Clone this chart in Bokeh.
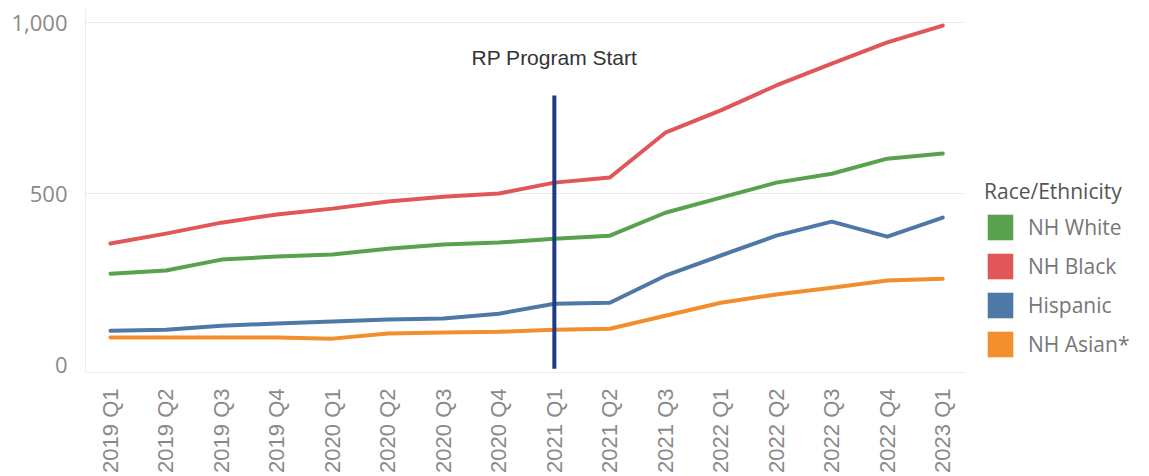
from bokeh.plotting import figure
from bokeh.layouts import row
from bokeh.models import (Range1d, FixedTicker, NumeralTickFormatter, Legend, LegendItem,
                          ColumnDataSource)
from bokeh.embed import file_html
from bokeh.resources import INLINE
from bokeh.core.properties import value
import math

quarters = ["2019 Q1", "2019 Q2", "2019 Q3", "2019 Q4",
            "2020 Q1", "2020 Q2", "2020 Q3", "2020 Q4",
            "2021 Q1", "2021 Q2", "2021 Q3",
            "2022 Q1", "2022 Q2", "2022 Q3", "2022 Q4",
            "2023 Q1"]

nh_white = [266, 275, 307, 316, 322, 339, 351, 357, 368, 377, 444, 488, 532, 558, 602, 617]
nh_black = [354, 383, 415, 439, 456, 477, 491, 500, 532, 547, 678, 743, 816, 880, 942, 991]
hispanic = [99, 102, 114, 120, 126, 132, 135, 149, 178, 181, 260, 319, 377, 418, 374, 430]
nh_asian = [79, 79, 79, 79, 76, 91, 94, 96, 102, 105, 143, 181, 205, 225, 246, 251]

series_names = ["NH White", "NH Black", "Hispanic", "NH Asian*"]
series_values = [nh_white, nh_black, hispanic, nh_asian]
series_colors = ["#59a14f", "#e15759", "#4e79a7", "#f28e2b"]

y_ticks = [0, 500, 1000]
program_start = "2021 Q1"
program_label = "RP Program Start"
program_line_range = (-12, 787)
program_label_y = 898

x_idx = list(range(len(quarters)))

p = figure(width=965, height=476, output_backend="svg", toolbar_location=None,
           x_range=Range1d(-0.45, 15.41), y_range=Range1d(-23, 1041),
           min_border_left=85, min_border_right=0, min_border_top=8, min_border_bottom=104)

p.background_fill_color = "white"
p.border_fill_color = "white"
p.outline_line_color = None

# axes
p.xaxis.ticker = FixedTicker(ticks=x_idx)
p.xaxis.major_label_overrides = {i: q for i, q in enumerate(quarters)}
p.xaxis.major_label_orientation = math.pi / 2
p.xaxis.major_label_text_font = "Liberation Sans"
p.xaxis.major_label_text_font_size = "22px"
p.xaxis.major_label_text_color = "#8a8a8a"
p.xaxis.major_label_standoff = 10
p.xaxis.axis_line_color = "#ededed"
p.xaxis.major_tick_line_color = None
p.xaxis.minor_tick_line_color = None

p.yaxis.ticker = FixedTicker(ticks=y_ticks)
p.yaxis.formatter = NumeralTickFormatter(format="0,0")
p.yaxis.major_label_text_font = "Open Sans"
p.yaxis.major_label_text_font_size = "22px"
p.yaxis.major_label_text_color = "#8a8a8a"
p.yaxis.major_label_standoff = 12
p.yaxis.axis_line_color = "#ededed"
p.yaxis.major_tick_line_color = None
p.yaxis.minor_tick_line_color = None

p.xgrid.grid_line_color = None
p.ygrid.ticker = FixedTicker(ticks=[500, 1000])
p.ygrid.grid_line_color = "#ececec"
p.ygrid.grid_line_width = 1

for name, vals, col in zip(series_names, series_values, series_colors):
    src = ColumnDataSource(dict(x=x_idx, y=vals))
    p.line("x", "y", source=src, line_color=col, line_width=4,
           line_join="round", line_cap="round")

# program start marker
px = quarters.index(program_start)
p.segment(x0=[px], x1=[px], y0=[program_line_range[0]], y1=[program_line_range[1]],
          line_color="#1f3a86", line_width=4)
p.text(x=[px], y=[program_label_y], text=[program_label],
       text_font=value("Liberation Sans"), text_font_size="21px",
       text_color="#333333", text_align="center", text_baseline="middle")

# legend panel as its own small figure
lg = figure(width=184, height=476, output_backend="svg", toolbar_location=None,
            x_range=Range1d(0, 1), y_range=Range1d(0, 1),
            x_axis_location=None, y_axis_location=None,
            min_border=0)
lg.outline_line_color = None
lg.grid.grid_line_color = None
lg.background_fill_color = "white"
lg.border_fill_color = "white"

nan = float("nan")
items = []
for name, col in zip(series_names, series_colors):
    proxy = lg.quad(left=[nan], right=[nan], top=[nan], bottom=[nan],
                    fill_color=col, line_color=None)
    items.append(LegendItem(label=name, renderers=[proxy]))

legend = Legend(items=items, location=(19, 12), title="Race/Ethnicity")
legend.title_text_font = "Open Sans"
legend.title_text_font_size = "21px"
legend.title_text_color = "#555555"
legend.title_text_font_style = "normal"
legend.title_standoff = 6
legend.label_text_font = "Open Sans"
legend.label_text_font_size = "21px"
legend.label_text_color = "#777777"
legend.glyph_width = 32
legend.glyph_height = 32
legend.spacing = 7
legend.label_standoff = 12
legend.padding = 0
legend.margin = 0
legend.border_line_color = None
legend.background_fill_alpha = 0
lg.add_layout(legend, "center")

layout = row(p, lg, spacing=0)
open("out.html", "w").write(file_html(layout, INLINE))
